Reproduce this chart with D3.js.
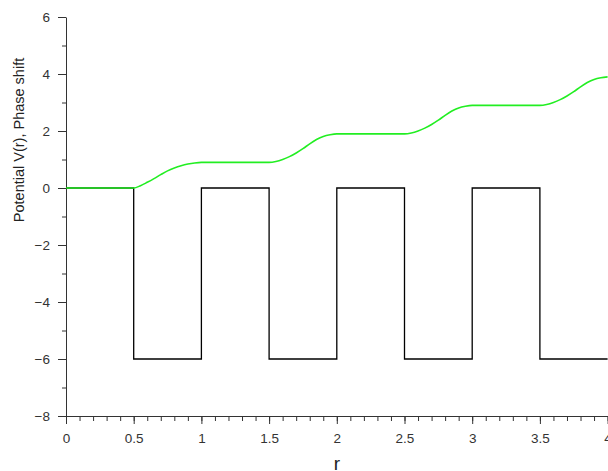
<!DOCTYPE html>
<html>
<head>
<meta charset="utf-8">
<script src="https://cdn.jsdelivr.net/npm/d3@7"></script>
<style>
  body { margin: 0; background: #fff; }
  svg { font-family: "Liberation Sans", Arial, sans-serif; }
  .axis path, .axis line { stroke: #333; }
  .axis text { fill: #333; font-size: 13.5px; }
</style>
</head>
<body>
<svg id="chart" width="608" height="471"></svg>
<script>
// Potential V(r): step edges and level after each edge
const potR = [0, 0.5, 1, 1.5, 2, 2.5, 3, 3.5, 4];
const potV = [0, -6, 0, -6, 0, -6, 0, -6, -6];

// Phase shift
const phaseR = [0, 0.5, 0.55, 0.6, 0.65, 0.7, 0.75, 0.8, 0.85, 0.9, 0.95, 1.0,
  1.5, 1.55, 1.6, 1.65, 1.7, 1.75, 1.8, 1.85, 1.9, 1.95, 2.0,
  2.5, 2.55, 2.6, 2.65, 2.7, 2.75, 2.8, 2.85, 2.9, 2.95, 3.0,
  3.5, 3.55, 3.6, 3.65, 3.7, 3.75, 3.8, 3.85, 3.9, 3.95, 4.0];
const phaseVal = [0, 0, 0.08, 0.2, 0.33, 0.47, 0.6, 0.7, 0.78, 0.84, 0.88, 0.9,
  0.9, 0.93, 1.0, 1.1, 1.23, 1.38, 1.55, 1.7, 1.81, 1.87, 1.9,
  1.9, 1.93, 2.0, 2.1, 2.23, 2.38, 2.55, 2.7, 2.81, 2.87, 2.9,
  2.9, 2.93, 3.0, 3.1, 3.23, 3.38, 3.55, 3.7, 3.81, 3.87, 3.9];

const xTicks = [0, 0.5, 1, 1.5, 2, 2.5, 3, 3.5, 4];
const yTicks = [-8, -6, -4, -2, 0, 2, 4, 6];

const svg = d3.select("#chart");

const x = d3.scaleLinear().domain([0, 4]).range([66, 607.6]);
const y = d3.scaleLinear().domain([-8, 6]).range([416, 17]);

// minor ticks first
svg.append("g")
  .attr("class", "axis")
  .attr("transform", "translate(0,416)")
  .call(d3.axisBottom(x).tickValues(d3.range(0, 41).map(i => i / 10)).tickSize(5).tickFormat(""))
  .call(g => g.select(".domain").remove());

svg.append("g")
  .attr("class", "axis")
  .attr("transform", "translate(66,0)")
  .call(d3.axisLeft(y).tickValues(d3.range(-8, 7)).tickSize(4).tickFormat(""))
  .call(g => g.select(".domain").remove());

// major axes
svg.append("g")
  .attr("class", "axis")
  .attr("transform", "translate(0,416)")
  .call(d3.axisBottom(x).tickValues(xTicks).tickSize(8).tickSizeOuter(0).tickPadding(9)
    .tickFormat(d => d3.format("")(d)));

svg.append("g")
  .attr("class", "axis")
  .attr("transform", "translate(66,0)")
  .call(d3.axisLeft(y).tickValues(yTicks).tickSize(8).tickSizeOuter(0).tickPadding(8));

// potential
svg.append("path")
  .datum(potR.map((r, i) => [r, potV[i]]))
  .attr("fill", "none")
  .attr("stroke", "#000")
  .attr("stroke-width", 1.3)
  .attr("d", d3.line().x(d => x(d[0])).y(d => y(d[1])).curve(d3.curveStepAfter));

// phase shift
svg.append("path")
  .datum(phaseR.map((r, i) => [r, phaseVal[i]]))
  .attr("fill", "none")
  .attr("stroke", "#22ee22")
  .attr("stroke-width", 1.6)
  .attr("d", d3.line().x(d => x(d[0])).y(d => y(d[1])).curve(d3.curveMonotoneX));

// labels
svg.append("text")
  .attr("x", 337).attr("y", 470)
  .attr("text-anchor", "middle")
  .attr("font-size", 19).attr("fill", "#222")
  .text("r");

svg.append("text")
  .attr("transform", "translate(24,140) rotate(-90)")
  .attr("text-anchor", "middle")
  .attr("font-size", 14.5).attr("fill", "#222")
  .text("Potential V(r), Phase shift");
</script>
</body>
</html>
